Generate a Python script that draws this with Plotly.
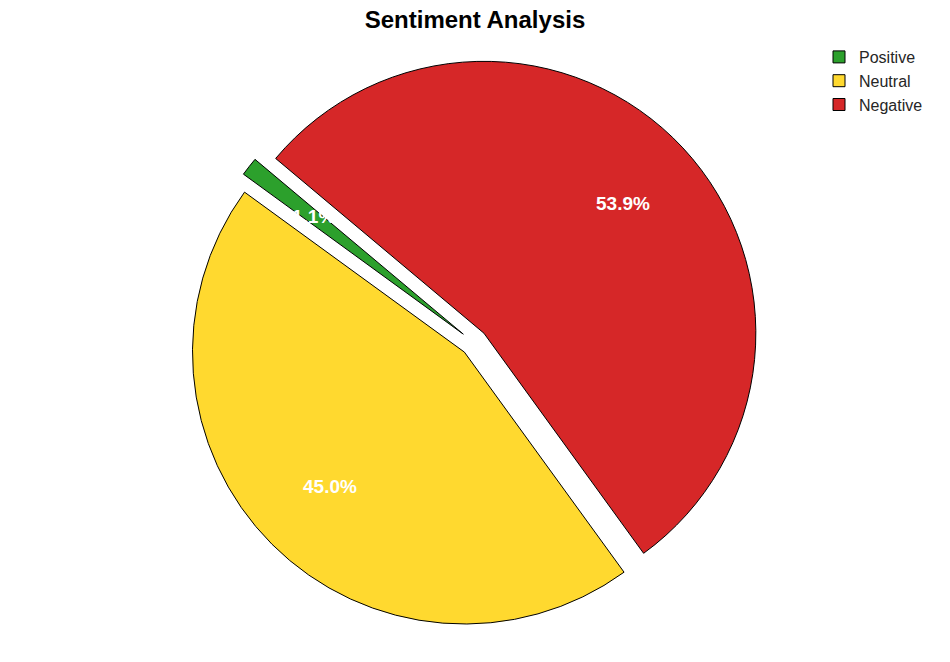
import math
import plotly.graph_objects as go

labels = ["Positive", "Neutral", "Negative"]
values = [1.1, 45.0, 53.9]
colors = ["#2CA02C", "#FFD92F", "#D62728"]
pulls = [0.05, 0.05, 0.05]

W, H = 950, 662
mt, mb = 57, 34
area_h = H - mt - mb
cx_px = 474.0
start_angle = 140.0
pct_distance = 0.7

plot_w = W
dom_half = area_h / 2.0
domain_x = [(cx_px - dom_half) / plot_w, (cx_px + dom_half) / plot_w]
r_px = dom_half / (1 + max(pulls))
cy_px = mt + area_h / 2.0

total = sum(values)
first_span = 360.0 * values[0] / total

fig = go.Figure()
fig.add_trace(go.Pie(
    labels=labels, values=values, sort=False, direction="counterclockwise",
    rotation=90 - start_angle - first_span, pull=pulls,
    marker=dict(colors=colors, line=dict(color="black", width=1)),
    textinfo="none", hoverinfo="label+percent",
    domain=dict(x=domain_x, y=[0, 1]),
))

cum = 0.0
annotations = []
for lab, v, p in zip(labels, values, pulls):
    mid = start_angle + 360.0 * (cum + v / 2.0) / total
    cum += v
    d = (p + pct_distance) * r_px
    x_px = cx_px + d * math.cos(math.radians(mid))
    y_px = cy_px - d * math.sin(math.radians(mid))
    annotations.append(dict(
        x=x_px / plot_w, y=(H - mb - y_px) / area_h, xref="paper", yref="paper",
        text=f"<b>{100 * v / total:.1f}%</b>", showarrow=False,
        font=dict(color="white", size=19, family="Liberation Sans, Arial, sans-serif"),
        xanchor="center", yanchor="middle",
    ))

fig.update_layout(
    width=W, height=H,
    margin=dict(l=0, r=0, t=mt, b=mb),
    paper_bgcolor="white", plot_bgcolor="white",
    title=dict(text="<b>Sentiment Analysis</b>", x=0.5, xanchor="center",
               y=1 - 20 / H, yanchor="middle", yref="container",
               font=dict(size=24, color="black", family="Liberation Sans, Arial, sans-serif")),
    legend=dict(x=819 / W, xanchor="left", y=(H - mb - 40) / area_h, yanchor="top",
                font=dict(size=16, color="#262626", family="Liberation Sans, Arial, sans-serif"),
                bgcolor="rgba(255,255,255,0)"),
    annotations=annotations,
    showlegend=True,
)

fig.write_html("out.html")
